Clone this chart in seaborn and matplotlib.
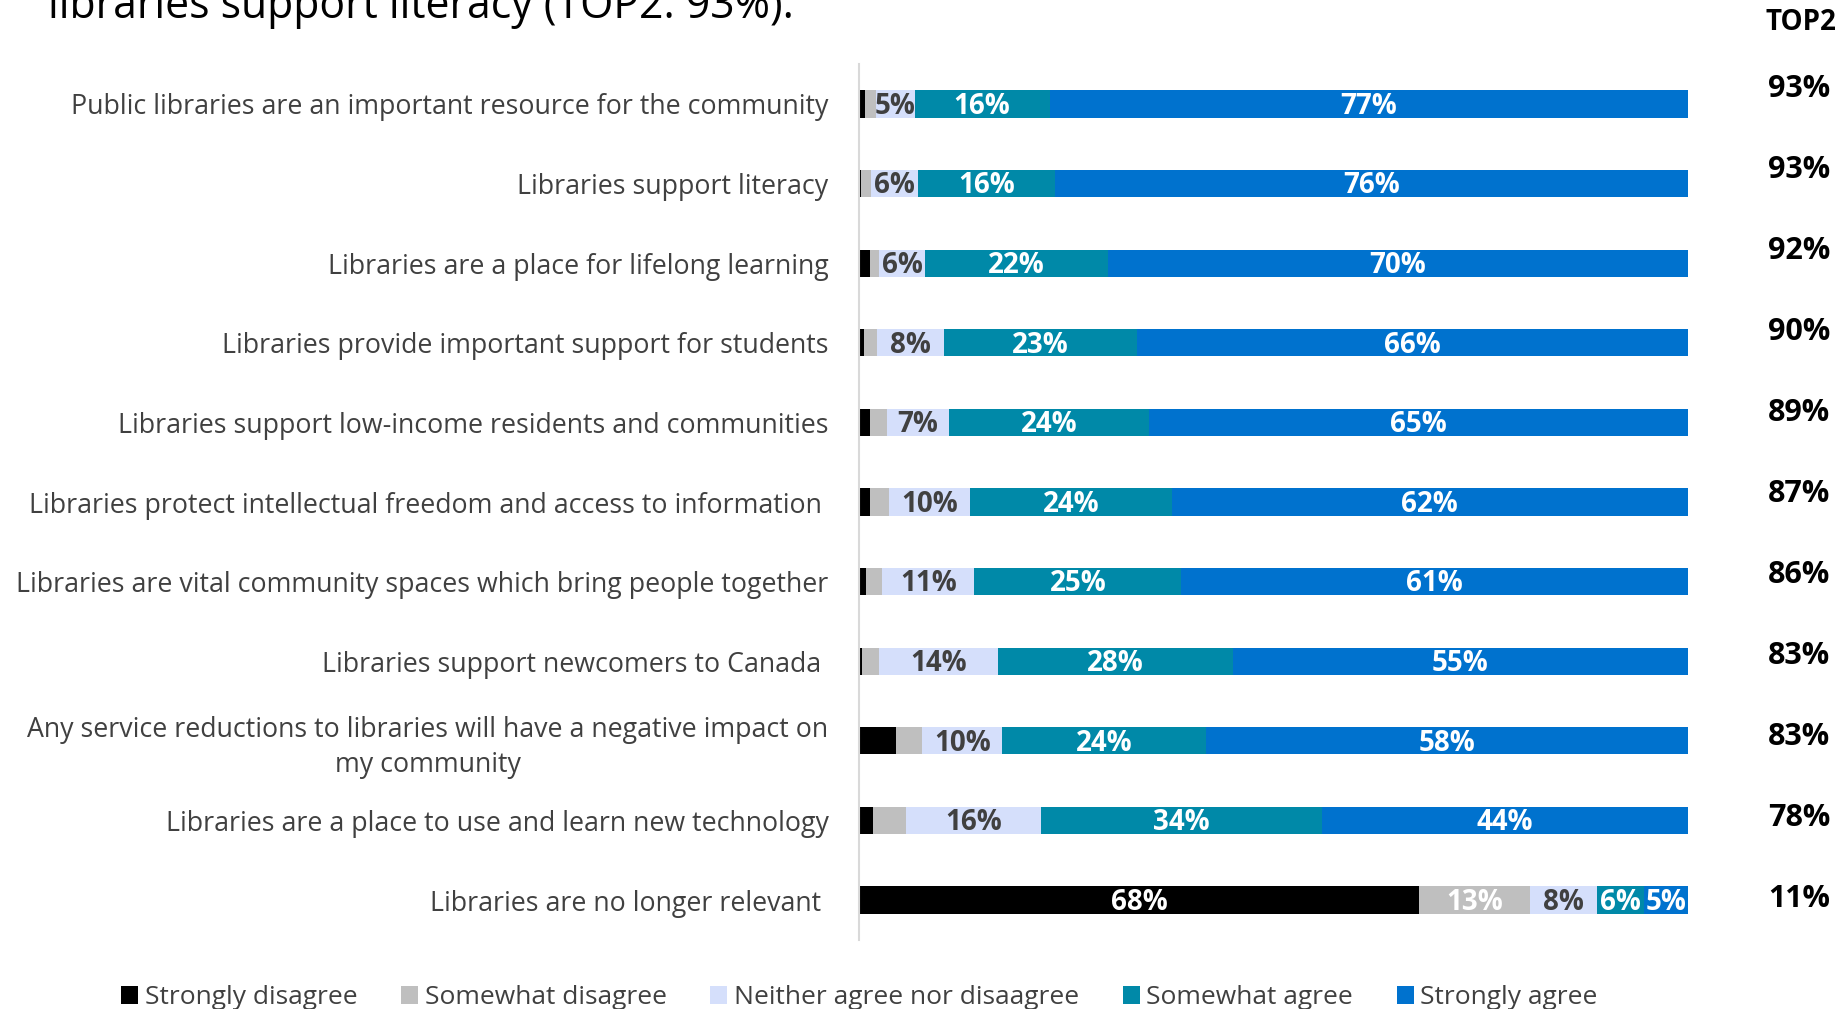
import numpy as np
import pandas as pd
import matplotlib
matplotlib.use("Agg")
import matplotlib.pyplot as plt
import seaborn as sns
from matplotlib.patches import Patch

# statements (top to bottom)
statements = [
    "Public libraries are an important resource for the community",
    "Libraries support literacy",
    "Libraries are a place for lifelong learning",
    "Libraries provide important support for students",
    "Libraries support low-income residents and communities",
    "Libraries protect intellectual freedom and access to information ",
    "Libraries are vital community spaces which bring people together",
    "Libraries support newcomers to Canada ",
    "Any service reductions to libraries will have a negative impact on\nmy community",
    "Libraries are a place to use and learn new technology",
    "Libraries are no longer relevant ",
]

# shares in %
strongly_disagree = [0.7, 0.2, 1.3, 0.6, 1.3, 1.3, 0.9, 0.4, 4.5, 1.7, 67.6]
somewhat_disagree = [1.4, 1.3, 1.1, 1.6, 2.1, 2.3, 1.9, 2.0, 3.1, 4.0, 13.4]
neither = [4.6, 5.6, 5.6, 8.0, 7.4, 9.8, 11.1, 14.4, 9.7, 16.2, 8.0]
somewhat_agree = [16.3, 16.5, 22.0, 23.3, 24.2, 24.3, 25.0, 28.3, 24.5, 34.0, 5.7]
strongly_agree = [77.0, 76.4, 70.0, 66.5, 65.0, 62.3, 61.1, 54.9, 58.2, 44.1, 5.3]

top2 = [93, 93, 92, 90, 89, 87, 86, 83, 83, 78, 11]

levels = ["Strongly disagree", "Somewhat disagree", "Neither agree nor disaagree",
          "Somewhat agree", "Strongly agree"]
colors = ["#000000", "#BFBFBF", "#D5DFFB", "#0089A8", "#0072CE"]
label_colors = ["white", "white", "#404040", "white", "white"]
# smallest share that gets a label, per level
min_label = [10, 10, 4, 4, 4]

df = pd.DataFrame({
    "statement": statements,
    levels[0]: strongly_disagree,
    levels[1]: somewhat_disagree,
    levels[2]: neither,
    levels[3]: somewhat_agree,
    levels[4]: strongly_agree,
})
cum = df[levels].cumsum(axis=1)

sns.set_style("white")
plt.rcParams["font.family"] = ["Open Sans", "DejaVu Sans"]

fig = plt.figure(figsize=(18.4, 10.09), dpi=100)
ax = fig.add_axes([859 / 1840, 1 - 939.8 / 1009, 829 / 1840, 875.6 / 1009])

# stacked bars: draw cumulative totals from the widest down
for lev, col in reversed(list(zip(levels, colors))):
    sns.barplot(x=cum[lev], y=df["statement"], orient="h", color=col,
                saturation=1, width=0.34, linewidth=0, ax=ax)

# segment labels
for i in range(len(df)):
    for lev, tc, mn in zip(levels, label_colors, min_label):
        v = df.loc[i, lev]
        if v < mn:
            continue
        ax.text(cum.loc[i, lev] - v / 2, i + 0.03, f"{v:.0f}%", ha="center", va="center",
                color=tc, fontsize=20, fontweight="bold")

ax.set_xlim(0, 100)
ax.set_ylim(len(df) - 0.5, -0.5)
ax.set_xlabel("")
ax.set_ylabel("")
ax.set_xticks([])
ax.tick_params(axis="y", length=0, pad=22, labelsize=19.3, labelcolor="#404040")
for lab in ax.get_yticklabels():
    lab.set_multialignment("center")
    lab.set_linespacing(1.3)
for s in ["top", "right", "bottom"]:
    ax.spines[s].set_visible(False)
ax.spines["left"].set_color("#D9D9D9")
ax.spines["left"].set_linewidth(1.5)

# TOP2 column (its rows are spaced a bit wider than the bars)
fig.text(1801 / 1840, 1 - 22 / 1009, "TOP2", ha="center", va="center",
         fontsize=20, fontweight="bold", color="black")
for i, t in enumerate(top2):
    fig.text(1799 / 1840, 1 - (89 + 81 * i) / 1009, f"{t}%",
             ha="center", va="center", fontsize=22, fontweight="bold", color="black")

# cropped title
fig.text(48 / 1840, 1 - 18 / 1009, "libraries support literacy (TOP2: 93%).",
         ha="left", va="baseline", fontsize=30.8, color="black")

handles = [Patch(facecolor=c, edgecolor="none", label=l) for l, c in zip(levels, colors)]
fig.legend(handles=handles, loc="center", bbox_to_anchor=(0.467, 1 - 998 / 1009),
           ncol=5, frameon=False, fontsize=19, labelcolor="#404040",
           handlelength=0.65, handleheight=0.65, handletextpad=0.25, columnspacing=1.65)

fig.savefig("out.png", dpi=100)
